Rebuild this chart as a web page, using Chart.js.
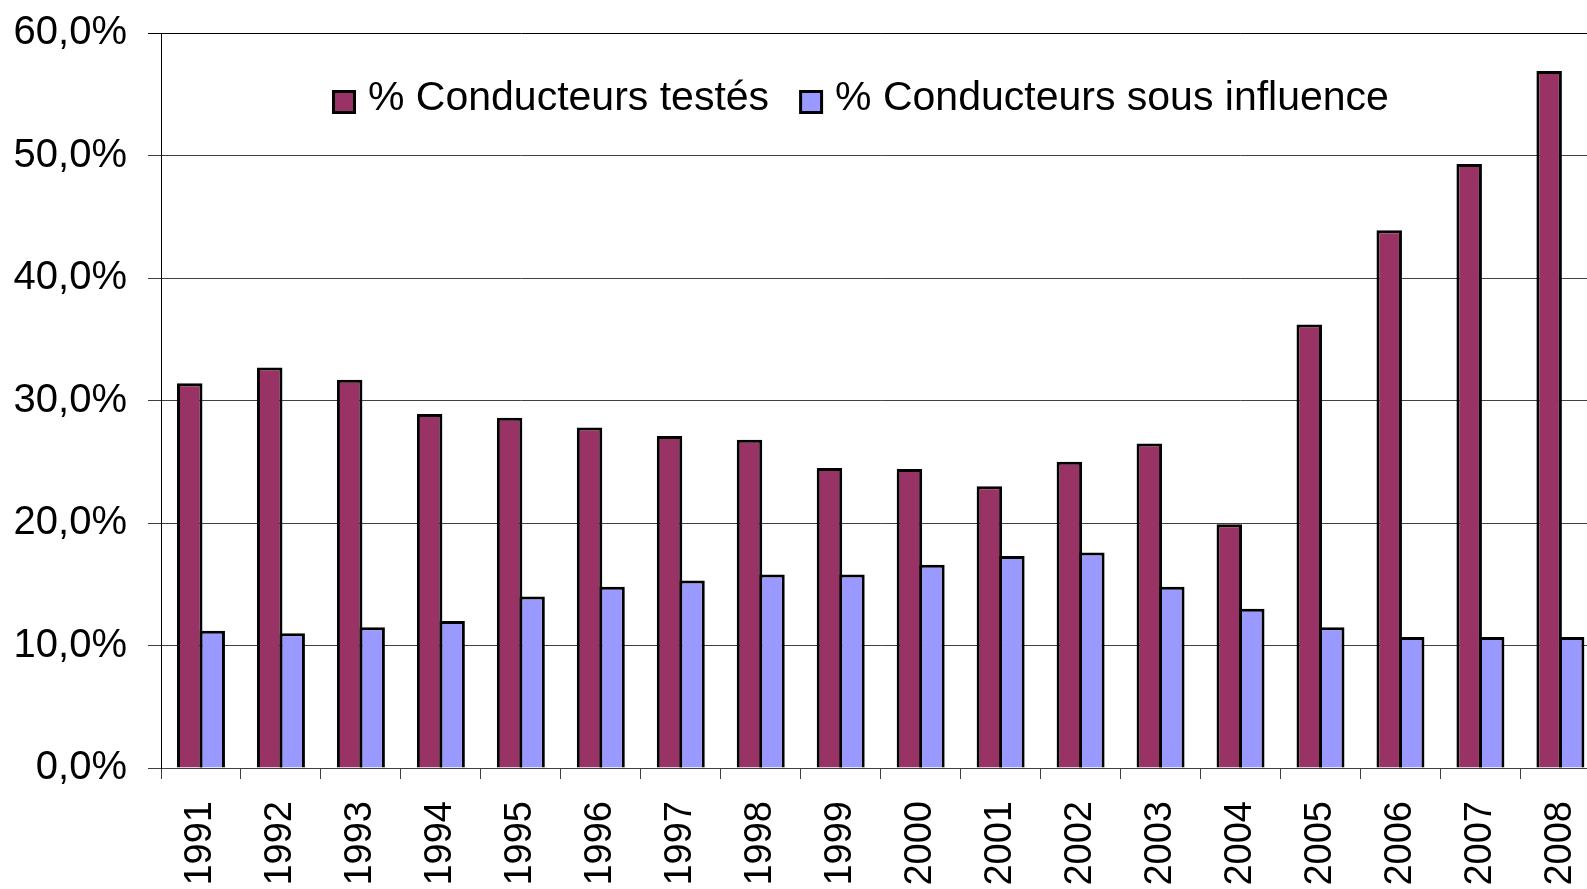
<!DOCTYPE html>
<html>
<head>
<meta charset="utf-8">
<script src="https://cdn.jsdelivr.net/npm/chart.js@4/dist/chart.umd.min.js"></script>
<style>
  html, body { margin: 0; padding: 0; background: #fff; overflow: hidden; }
  #wrap { width: 1628px; height: 889px; }
</style>
</head>
<body>
<div id="wrap"><canvas id="chart" width="1628" height="889"></canvas></div>
<script>
// donnees
const annees = ['1991', '1992', '1993', '1994', '1995', '1996', '1997', '1998', '1999',
  '2000', '2001', '2002', '2003', '2004', '2005', '2006', '2007', '2008'];
const testes = [31.4, 32.7, 31.7, 28.9, 28.6, 27.8, 27.1, 26.8, 24.5,
  24.4, 23.0, 25.0, 26.5, 19.9, 36.2, 43.9, 49.3, 56.9];
const sousInfluence = [11.2, 11.0, 11.5, 12.0, 14.0, 14.8, 15.3, 15.8, 15.8,
  16.6, 17.3, 17.6, 14.8, 13.0, 11.5, 10.7, 10.7, 10.7];
const etiquettesY = ['0,0%', '10,0%', '20,0%', '30,0%', '40,0%', '50,0%', '60,0%'];

const police = "'Liberation Sans', Arial, sans-serif";
Chart.defaults.font.family = police;
Chart.defaults.color = '#000';

// legende dessinee a l'interieur de la zone du graphique (comme dans Excel)
const legendeInterne = {
  id: 'legendeInterne',
  afterDraw(chart) {
    const c = chart.ctx;
    const zone = chart.chartArea;
    const boite = 24;
    let x = zone.left + 171;
    const yc = zone.top + 69;
    c.save();
    c.font = '41px ' + police;
    c.textBaseline = 'middle';
    c.textAlign = 'left';
    chart.data.datasets.forEach((ds) => {
      c.fillStyle = '#000';
      c.fillRect(x, yc - boite / 2, boite, boite);
      c.fillStyle = ds.backgroundColor;
      c.fillRect(x + 3, yc - boite / 2 + 3, boite - 6, boite - 6);
      x += boite + 12;
      c.fillStyle = '#000';
      c.fillText(ds.label, x, yc - 3);
      x += c.measureText(ds.label).width + 30;
    });
    c.restore();
  }
};

const ctx = document.getElementById('chart').getContext('2d');
new Chart(ctx, {
  type: 'bar',
  data: {
    labels: annees,
    datasets: [
      {
        label: '% Conducteurs testés',
        data: testes,
        backgroundColor: '#993366',
        borderColor: '#000',
        borderWidth: 3,
        borderSkipped: 'bottom'
      },
      {
        label: '% Conducteurs sous influence',
        data: sousInfluence,
        backgroundColor: '#9999FF',
        borderColor: '#000',
        borderWidth: 3,
        borderSkipped: 'bottom'
      }
    ]
  },
  options: {
    responsive: false,
    animation: false,
    datasets: {
      bar: { categoryPercentage: 0.5625, barPercentage: 1.133 }
    },
    layout: { padding: { top: 33, left: 0, right: 0, bottom: 0 } },
    plugins: {
      tooltip: { enabled: false },
      legend: { display: false }
    },
    scales: {
      x: {
        grid: {
          offset: true,
          drawOnChartArea: false,
          drawTicks: true,
          tickLength: 11,
          color: '#404040'
        },
        border: { display: true, color: '#404040', width: 1 },
        ticks: {
          minRotation: 90,
          maxRotation: 90,
          autoSkip: false,
          padding: 22,
          font: { size: 38 }
        },
        afterFit: (scale) => { scale.height = 121; }
      },
      y: {
        min: 0,
        max: 60,
        grid: {
          color: (c) => c.tick && c.tick.value === 60 ? '#000' : '#404040',
          lineWidth: 1,
          tickLength: 13
        },
        border: { display: true, color: '#000', width: 1 },
        ticks: {
          stepSize: 10,
          padding: 21,
          font: { size: 40 },
          callback: (v) => etiquettesY[Math.round(v / 10)]
        },
        afterFit: (scale) => {
          scale.width = 161;
          scale.paddingTop = 0;
          scale.paddingBottom = 0;
        }
      }
    }
  },
  plugins: [legendeInterne]
});
</script>
</body>
</html>
